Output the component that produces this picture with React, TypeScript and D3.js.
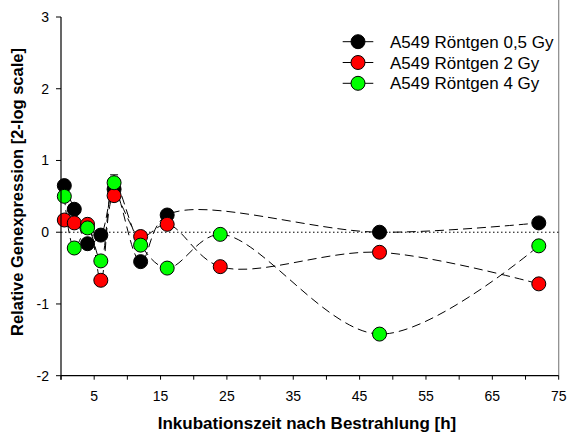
import React from "react";
import * as d3 from "d3";

// Time points (hours after irradiation)
const timesShort = [0.5, 2, 4, 6, 8, 12, 16, 48, 72];
const timesFull = [0.5, 2, 4, 6, 8, 12, 16, 24, 48, 72];

// Relative expression (log2) per dose
const dose05 = [0.65, 0.32, -0.16, -0.04, 0.6, -0.41, 0.24, 0.0, 0.13];
const dose2 = [0.17, 0.13, 0.11, -0.67, 0.51, -0.06, 0.11, -0.48, -0.28, -0.72];
const dose4 = [0.5, -0.22, 0.06, -0.4, 0.69, -0.18, -0.5, -0.03, -1.42, -0.19];

// Upper error bar at 8 h
const errTime = 8;
const errTop = 0.8;

const seriesNames = ["A549 Röntgen 0,5 Gy", "A549 Röntgen 2 Gy", "A549 Röntgen 4 Gy"];
const seriesColors = ["#000000", "#ff0000", "#00ff00"];

const xTicks = [0, 5, 10, 15, 20, 25, 30, 35, 40, 45, 50, 55, 60, 65, 70, 75];
const xTickLabels = [5, 15, 25, 35, 45, 55, 65, 75];
const yTicks = [-2, -1, 0, 1, 2, 3];

const W = 568;
const H = 434;
const left = 61;
const right = 558.7;
const top = 17;
const bottom = 375.7;

export default function App() {
  const x = d3.scaleLinear().domain([0, 75]).range([left, right]);
  const y = d3.scaleLinear().domain([-2, 3]).range([bottom, top]);
  const line = d3
    .line<[number, number]>()
    .x((d) => x(d[0]))
    .y((d) => y(d[1]))
    .curve(d3.curveCatmullRom.alpha(0.5));

  const series = [
    { xs: timesShort, ys: dose05 },
    { xs: timesFull, ys: dose2 },
    { xs: timesFull, ys: dose4 },
  ];

  const font = "Arial, 'Liberation Sans', sans-serif";
  const r = 7;

  return (
    <div style={{ position: "fixed", left: 0, top: 0 }}>
      <svg width={W} height={H} style={{ display: "block", background: "#fff" }}>
        {/* frame line on the right */}
        <line x1={right} x2={right} y1={0} y2={bottom} stroke="#888" strokeWidth={1.2} />
        {/* zero reference */}
        <line
          x1={x(0)}
          x2={x(75)}
          y1={y(0)}
          y2={y(0)}
          stroke="#000"
          strokeWidth={1}
          strokeDasharray="1.5,2.5"
        />
        {/* smoothed lines */}
        {series.map((s, i) => (
          <path
            key={"l" + i}
            d={line(s.xs.map((t, j) => [t, s.ys[j]] as [number, number])) || ""}
            fill="none"
            stroke="#000"
            strokeWidth={1}
            strokeDasharray="9,5"
          />
        ))}
        {/* error bar */}
        <line x1={x(errTime)} x2={x(errTime)} y1={y(dose4[4])} y2={y(errTop)} stroke="#000" strokeWidth={1} />
        <line x1={x(errTime) - 4} x2={x(errTime) + 4} y1={y(errTop)} y2={y(errTop)} stroke="#000" strokeWidth={1} />
        {/* markers */}
        {series.map((s, i) => (
          <g key={"m" + i}>
            {s.xs.map((t, j) => (
              <circle
                key={j}
                cx={x(t)}
                cy={y(s.ys[j])}
                r={r}
                fill={seriesColors[i]}
                stroke="#000"
                strokeWidth={1}
              />
            ))}
          </g>
        ))}
        {/* axes */}
        <line x1={left} x2={left} y1={top} y2={bottom + 4} stroke="#000" strokeWidth={1.2} />
        <line x1={left} x2={right} y1={bottom} y2={bottom} stroke="#000" strokeWidth={1.2} />
        {yTicks.map((t) => (
          <g key={"yt" + t}>
            <line x1={left - 5} x2={left} y1={y(t)} y2={y(t)} stroke="#000" strokeWidth={1} />
            <text
              x={49}
              y={y(t) + 5}
              textAnchor="end"
              fontFamily={font}
              fontSize={14}
              fill="#000"
            >
              {t}
            </text>
          </g>
        ))}
        {xTicks.map((t) => (
          <line key={"xt" + t} x1={x(t)} x2={x(t)} y1={bottom} y2={bottom + 4} stroke="#000" strokeWidth={1} />
        ))}
        {xTickLabels.map((t) => (
          <text
            key={"xl" + t}
            x={x(t)}
            y={401}
            textAnchor="middle"
            fontFamily={font}
            fontSize={14}
            fill="#000"
          >
            {t}
          </text>
        ))}
        {/* axis titles */}
        <text
          x={307}
          y={429}
          textAnchor="middle"
          fontFamily={font}
          fontSize={17}
          fontWeight="bold"
          fill="#000"
        >
          Inkubationszeit nach Bestrahlung [h]
        </text>
        <text
          transform="translate(22.5, 192) rotate(-90)"
          textAnchor="middle"
          fontFamily={font}
          fontSize={16.5}
          fontWeight="bold"
          fill="#000"
        >
          Relative Genexpression [2-log scale]
        </text>
        {/* legend */}
        {seriesNames.map((name, i) => {
          const ly = 41.7 + i * 20.8;
          return (
            <g key={"lg" + i}>
              <line x1={342.7} x2={373.3} y1={ly} y2={ly} stroke="#000" strokeWidth={1} />
              <circle cx={358} cy={ly} r={r} fill={seriesColors[i]} stroke="#000" strokeWidth={1} />
              <text x={390} y={ly + 6} fontFamily={font} fontSize={17} fill="#000">
                {name}
              </text>
            </g>
          );
        })}
      </svg>
    </div>
  );
}
